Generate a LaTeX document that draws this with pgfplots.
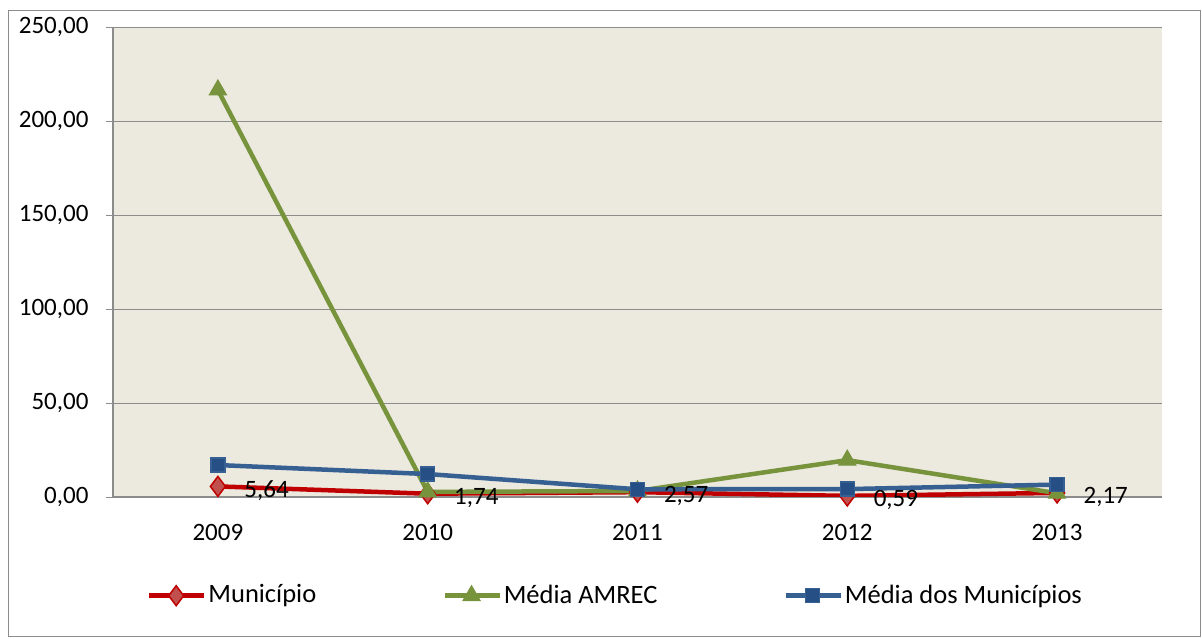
\documentclass[border=0pt]{standalone}
\usepackage{pgfplots}
\pgfplotsset{compat=1.18}
\usepackage{pgfplotstable}
\usepackage{fontspec}
\setmainfont{Carlito}
\definecolor{redl}{HTML}{C00000}
\definecolor{redm}{HTML}{C0504D}
\definecolor{greenl}{HTML}{77933C}
\definecolor{bluel}{HTML}{376092}
\definecolor{bluem}{HTML}{254F85}
\definecolor{bgc}{HTML}{ECE9DF}
\definecolor{gridc}{HTML}{8C8C8C}
\pgfplotstableread{
x y label
0 5.64 {5,64}
1 1.74 {1,74}
2 2.57 {2,57}
3 0.59 {0,59}
4 2.17 {2,17}
}\municipio
\pgfplotstableread{
x y
0 216.5
1 2.7
2 3.2
3 19.6
4 2.0
}\amrec
\pgfplotstableread{
x y
0 17.0
1 12.2
2 4.1
3 4.2
4 6.6
}\mediamun
\begin{document}
\fontsize{25}{30}\selectfont
\begin{tikzpicture}[x=1pt,y=1pt]
\path (-113,-142) rectangle (1089,497);
\draw[gridc, line width=1pt] (-104,-140) rectangle (1087,486);
\begin{axis}[
  at={(0,0)}, anchor=south west,
  scale only axis, width=1049pt, height=470pt,
  xmin=-0.5, xmax=4.5, ymin=0, ymax=250,
  axis background/.style={fill=bgc},
  axis x line=bottom, axis y line=left,
  axis line style={gridc, line width=1.2pt, -},
  xtick={0,1,2,3,4}, xticklabels={2009,2010,2011,2012,2013},
  major x tick style={draw=none},
  ytick={0,50,100,150,200,250},
  ymajorgrids, grid style={gridc, line width=0.8pt},
  major y tick style={gridc, line width=0.8pt},
  tick align=outside, major tick length=7pt,
  /pgf/number format/fixed, /pgf/number format/fixed zerofill,
  /pgf/number format/precision=2, /pgf/number format/use comma,
  /pgf/number format/assume math mode=true,
  ticklabel style={font=\fontsize{25}{30}\selectfont},
  xticklabel style={yshift=-12pt},
  yticklabel style={xshift=-9pt},
  legend style={at={(0.4790,-0.21)}, anchor=center, draw=none, fill=none,
    font=\fontsize{26.5}{30}\selectfont, legend columns=-1,
    /tikz/every even column/.append style={column sep=124pt},
    inner sep=0pt},
  legend cell align=left,
  legend image code/.code={\draw[mark repeat=2, mark phase=2] plot coordinates {(0pt,0pt) (27pt,0pt) (55pt,0pt)};},
]
\addplot[redl, line width=4.5pt, mark=diamond*, mark size=10pt,
  mark options={fill=redm, draw=redl, line width=1.5pt}] table[x=x,y=y] {\municipio};
\addlegendentry{Município}
\addplot[greenl, line width=4.5pt, mark=triangle*, mark size=10pt,
  mark options={fill=greenl, draw=greenl, line width=1pt}] table[x=x,y=y] {\amrec};
\addlegendentry{Média AMREC}
\addplot[bluel, line width=4.5pt, mark=square*, mark size=7pt,
  mark options={fill=bluem, draw=bluel, line width=1.5pt}] table[x=x,y=y] {\mediamun};
\addlegendentry{Média dos Municípios}
\addplot[draw=none, forget plot, point meta=explicit symbolic,
  nodes near coords, nodes near coords align={anchor=west},
  every node near coord/.append style={font=\fontsize{25}{30}\selectfont, black, xshift=18pt, yshift=-4pt}]
  table[x=x, y=y, meta=label] {\municipio};
\end{axis}
\end{tikzpicture}
\end{document}
